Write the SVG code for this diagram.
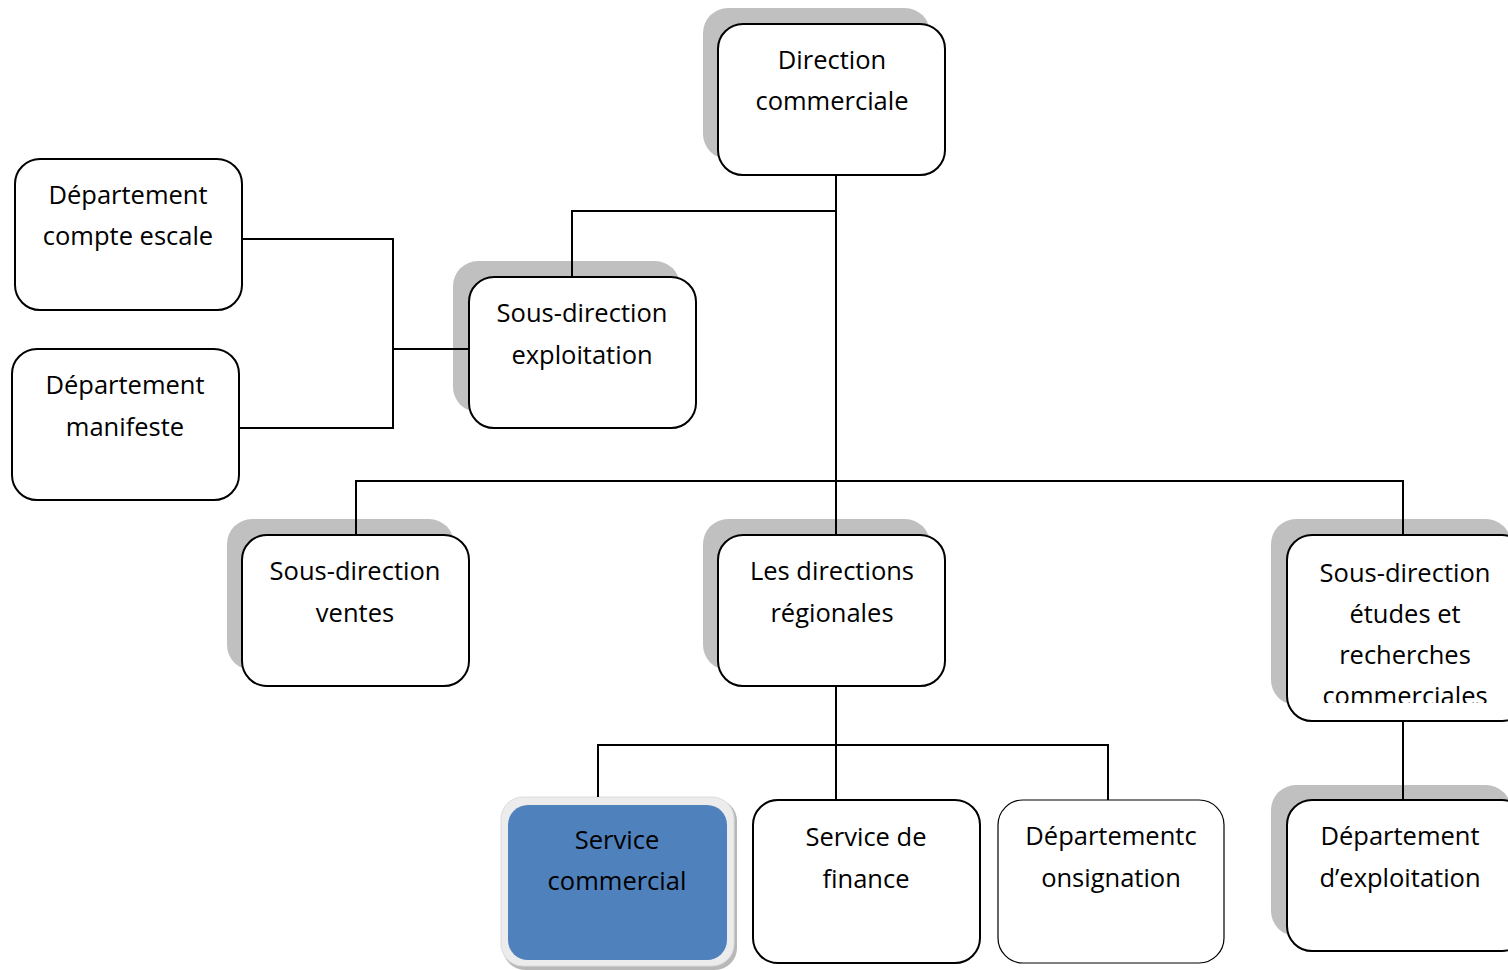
<svg xmlns="http://www.w3.org/2000/svg" width="1508" height="970" viewBox="0 0 1508 970">
<style>
.box{fill:#fff;stroke:#000;stroke-width:2}
.thin{fill:#fff;stroke:#000;stroke-width:1.2}
.sh{fill:#c0c0c0}
.t{font-family:"Open Sans","Noto Sans",sans-serif;font-size:25.5px;fill:#000;text-anchor:middle}
.ln{fill:none;stroke:#000;stroke-width:2}
</style>
<defs>
<clipPath id="clipEtudes"><rect x="1287" y="535" width="230" height="168"/></clipPath>
</defs>
<rect width="1508" height="970" fill="#fff"/>
<g id="direction-commerciale">
<rect class="sh" x="703" y="8" width="227" height="151" rx="25"/>
<rect class="box" x="718" y="24" width="227" height="151" rx="25"/>
<text class="t" x="832" y="69">Direction</text>
<text class="t" x="832" y="110">commerciale</text>
</g>
<g id="sous-direction-exploitation">
<rect class="sh" x="453" y="261" width="227" height="151" rx="25"/>
<rect class="box" x="469" y="277" width="227" height="151" rx="25"/>
<text class="t" x="582" y="322">Sous-direction</text>
<text class="t" x="582" y="364">exploitation</text>
</g>
<g id="departement-compte-escale">
<rect class="box" x="15" y="159" width="227" height="151" rx="25"/>
<text class="t" x="128" y="204">Département</text>
<text class="t" x="128" y="245">compte escale</text>
</g>
<g id="departement-manifeste">
<rect class="box" x="12" y="349" width="227" height="151" rx="25"/>
<text class="t" x="125" y="394">Département</text>
<text class="t" x="125" y="436">manifeste</text>
</g>
<g id="sous-direction-ventes">
<rect class="sh" x="227" y="519" width="227" height="151" rx="25"/>
<rect class="box" x="242" y="535" width="227" height="151" rx="25"/>
<text class="t" x="355" y="580">Sous-direction</text>
<text class="t" x="355" y="622">ventes</text>
</g>
<g id="directions-regionales">
<rect class="sh" x="703" y="519" width="227" height="151" rx="25"/>
<rect class="box" x="718" y="535" width="227" height="151" rx="25"/>
<text class="t" x="832" y="580">Les directions</text>
<text class="t" x="832" y="622">régionales</text>
</g>
<g id="sous-direction-etudes">
<rect class="sh" x="1271" y="519" width="240" height="186" rx="25"/>
<rect class="box" x="1287" y="535" width="240" height="186" rx="25"/>
<g clip-path="url(#clipEtudes)">
<text class="t" x="1405" y="582">Sous-direction</text>
<text class="t" x="1405" y="623">études et</text>
<text class="t" x="1405" y="664">recherches</text>
<text class="t" x="1405" y="705">commerciales</text>
</g>
</g>
<g id="service-commercial">
<rect x="503" y="799" width="234" height="171" rx="22" fill="#b8b8b8"/>
<rect x="501" y="797" width="233" height="169" rx="22" fill="#ececec" stroke="#dcdcdc" stroke-width="1"/>
<rect x="508" y="805" width="219" height="155" rx="20" fill="#4f81bd"/>
<text class="t" x="617" y="849">Service</text>
<text class="t" x="617" y="890">commercial</text>
</g>
<g id="service-de-finance">
<rect class="box" x="753" y="800" width="227" height="163" rx="25"/>
<text class="t" x="866" y="846">Service de</text>
<text class="t" x="866" y="888">finance</text>
</g>
<g id="departement-consignation">
<rect class="thin" x="998" y="800" width="226" height="163" rx="25"/>
<text class="t" x="1111" y="845">Départementc</text>
<text class="t" x="1111" y="887">onsignation</text>
</g>
<g id="departement-exploitation">
<rect class="sh" x="1271" y="785" width="240" height="151" rx="25"/>
<rect class="box" x="1287" y="800" width="240" height="151" rx="25"/>
<text class="t" x="1400" y="845">Département</text>
<text class="t" x="1400" y="887">d’exploitation</text>
</g>
<g id="connectors">
<path class="ln" d="M836 175V535M836 211H572V277M356 535V481H1403V535M242 239H393V428H239M393 349H469M836 686V800M598 797V745H1108V800M1403 721V800"/>
</g>
</svg>
